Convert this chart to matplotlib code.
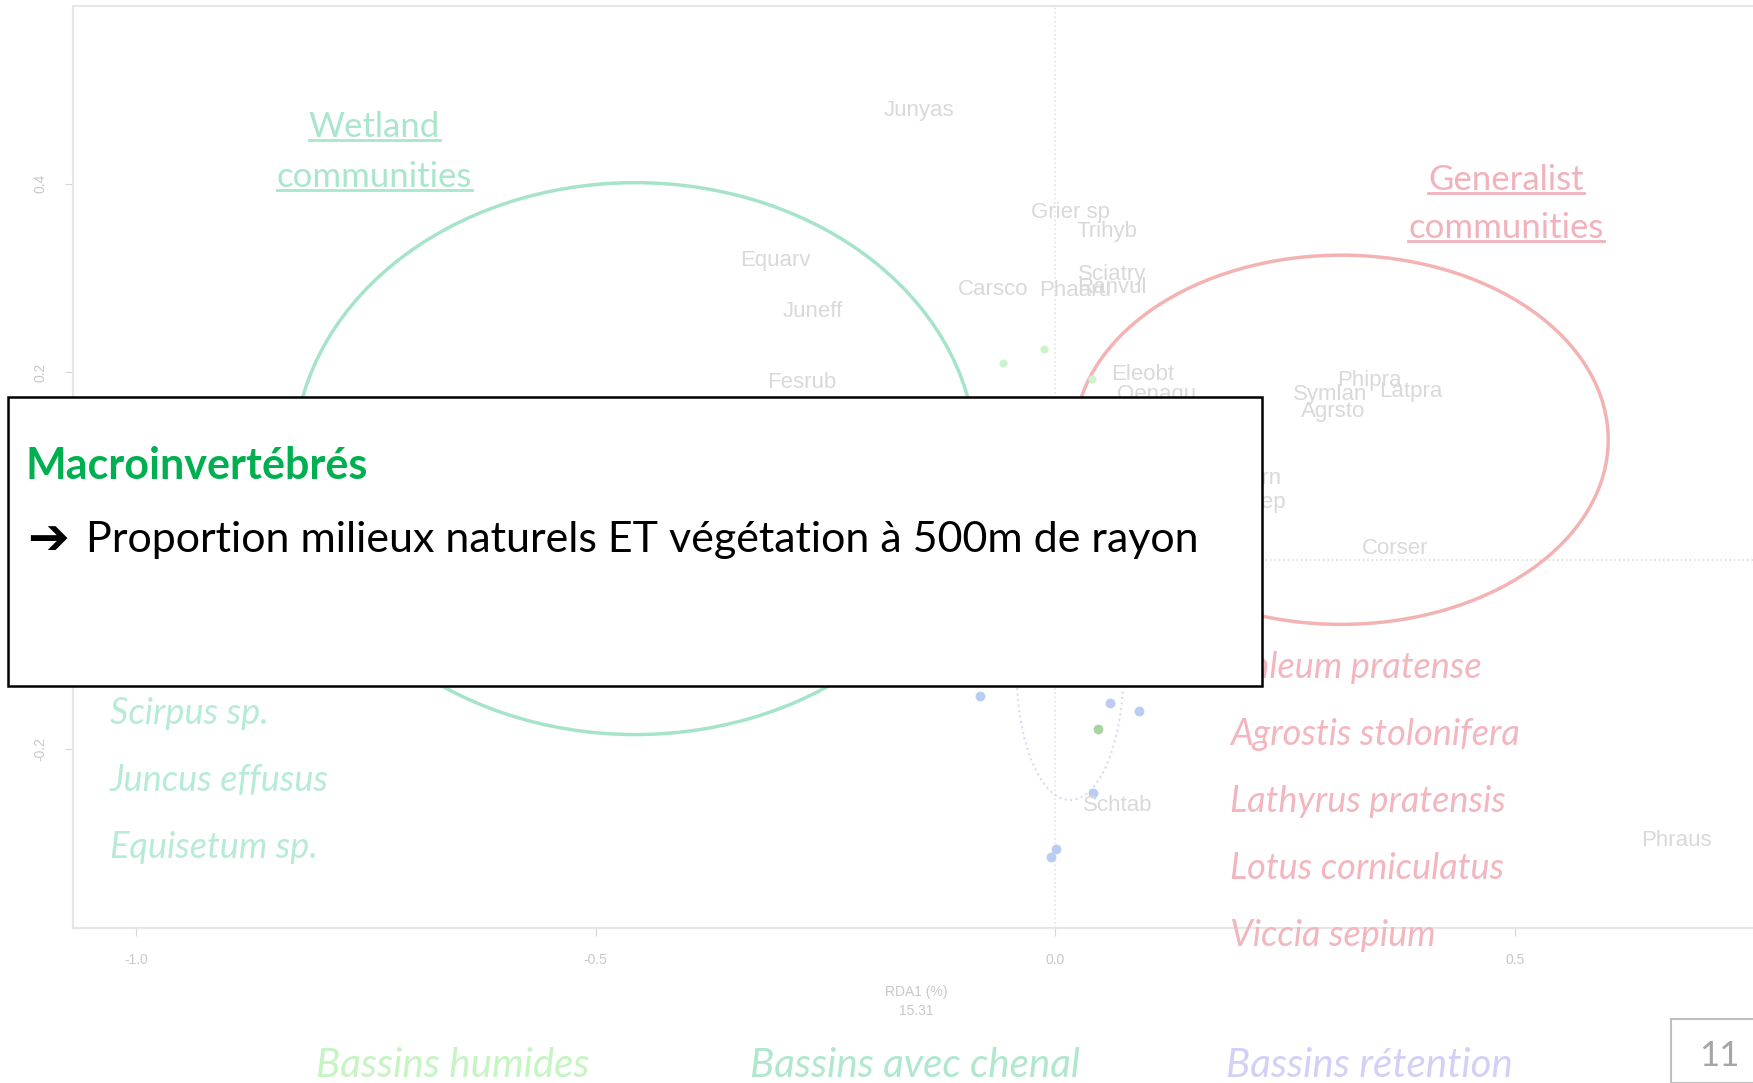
import matplotlib.pyplot as plt
from matplotlib.patches import Ellipse, Rectangle
from matplotlib.lines import Line2D

xticks = [-1.0, -0.5, 0.0, 0.5]
yticks = [-0.2, 0.2, 0.4]

# sites (points)
green_x = [-0.057, -0.012, 0.040]
green_y = [0.209, 0.224, 0.193]
dgreen_x = [0.046]
dgreen_y = [-0.179]
blue_x = [-0.082, 0.060, 0.091, 0.041, -0.005, 0.001]
blue_y = [-0.144, -0.151, -0.160, -0.247, -0.315, -0.307]

# especes (codes)
sp_names = ["Junyas", "Grier sp", "Trihyb", "Equarv", "Sciatry", "Carsco", "Phaaru",
            "Ranvul", "Juneff", "Fesrub", "Eleobt", "Oenaqu", "Phipra", "Latpra",
            "Symlan", "Agrsto", "Lotcorn", "Vicsep", "Corser", "Schtab", "Phraus"]
sp_x = [-0.148, 0.017, 0.056, -0.305, 0.062, -0.068, 0.022, 0.062, -0.264, -0.276,
        0.095, 0.110, 0.342, 0.387, 0.299, 0.302, 0.205, 0.215, 0.370, 0.068, 0.676]
sp_y = [0.478, 0.369, 0.349, 0.318, 0.304, 0.288, 0.286, 0.290, 0.264, 0.189,
        0.197, 0.176, 0.191, 0.179, 0.176, 0.158, 0.087, 0.061, 0.013, -0.260, -0.298]

# ellipses des groupes (centre x, centre y, largeur, hauteur)
wet_ell = (-0.457, 0.108, 0.742, 0.586)
gen_ell = (0.311, 0.128, 0.581, 0.392)
ret_ell = (0.016, -0.118, 0.116, 0.273)

wet_species = ["Scirpus sp.", "Juncus effusus", "Equisetum sp."]
gen_species = ["Phleum pratense", "Agrostis stolonifera", "Lathyrus pratensis",
               "Lotus corniculatus", "Viccia sepium"]
groups = ["Bassins humides", "Bassins avec chenal", "Bassins rétention"]
group_cols = ["#c6f4c2", "#afe8cd", "#d2d0f7"]

W, H = 1568, 969  # repere de mesure (pixels de l'image lue)

def fx(px):
    return px / W

def fy(py):
    return 1 - py / H

plt.rcParams['font.family'] = ['Lato', 'DejaVu Sans']
narrow = ["Liberation Sans Narrow", "Liberation Sans", "DejaVu Sans"]

fig = plt.figure(figsize=(17.53, 10.83), dpi=100)
ax = fig.add_axes([fx(65), fy(830), 1 - fx(65), (830 - 5) / H])
ax.set_xlim(-1.069, 0.759)
ax.set_ylim(-0.39, 0.589)
for s in ["left", "bottom", "top"]:
    ax.spines[s].set_color("#e6e6e6")
    ax.spines[s].set_linewidth(1.5)
ax.spines["right"].set_visible(False)
ax.set_xticks(xticks)
ax.set_xticklabels(["%.1f" % v for v in xticks])
ax.set_yticks(yticks)
ax.set_yticklabels(["%.1f" % v for v in yticks], rotation=90, va="center")
ax.tick_params(colors="#d6d6d6", labelcolor="#c8c8c8", labelsize=10, length=6, pad=12)
for lab in ax.get_xticklabels() + ax.get_yticklabels():
    lab.set_family(narrow)

ax.axvline(0, color="#e4e4e4", ls=":", lw=1.2, zorder=0)
ax.axhline(0, color="#dcdcdc", ls=":", lw=1.2, zorder=0)

ax.add_patch(Ellipse(wet_ell[:2], wet_ell[2], wet_ell[3], fill=False, ec="#a6e4c9", lw=2.5))
ax.add_patch(Ellipse(gen_ell[:2], gen_ell[2], gen_ell[3], fill=False, ec="#f3b3b3", lw=2.5))
ax.add_patch(Ellipse(ret_ell[:2], ret_ell[2], ret_ell[3], fill=False, ec="#d3ddf3", lw=1.5, ls=":"))

ax.scatter(green_x, green_y, s=35, c="#cdf3cd", marker="o", lw=0)
ax.scatter(dgreen_x, dgreen_y, s=50, c="#a9d3a0", marker="o", lw=0)
ax.scatter(blue_x, blue_y, s=50, c="#b9cdf3", marker="o", lw=0)

for n, x, y in zip(sp_names, sp_x, sp_y):
    ax.text(x, y, n, color="#d9d9d9", fontsize=16, ha="center", va="center", family=narrow)

fig.text(fx(820), fy(888), "RDA1 (%)", color="#c8c8c8", fontsize=10, ha="center", va="center",
         family=narrow)
fig.text(fx(820), fy(905), "15.31", color="#c8c8c8", fontsize=10, ha="center", va="center",
         family=narrow)

# titres des groupes, soulignes
heads = []
for txt, x, y, c in [("Wetland", 335, 114, "#a9e6cc"), ("communities", 335, 158, "#a9e6cc"),
                     ("Generalist", 1347, 161, "#f2b2bc"), ("communities", 1347, 204, "#f2b2bc")]:
    heads.append((fig.text(fx(x), fy(y), txt, color=c, fontsize=25, ha="center", va="center",
                           zorder=1), c))

for i, t in enumerate(wet_species):
    fig.text(fx(98), fy(638 + 60 * i), t, color="#b6ecd6", fontsize=26, style="italic",
             ha="left", va="center", zorder=1)
for i, t in enumerate(gen_species):
    fig.text(fx(1100), fy(597 + 60 * i), t, color="#f3b6bf", fontsize=26, style="italic",
             ha="left", va="center", zorder=1)

for t, x, c in zip(groups, [405, 818, 1225], group_cols):
    fig.text(fx(x), fy(953), t, color=c, fontsize=29, style="italic",
             ha="center", va="center", zorder=1)

# encadre du texte
fig.add_artist(Rectangle((fx(7), fy(614)), fx(1129) - fx(7), (614 - 355) / H,
                         transform=fig.transFigure, fc="white", ec="black", lw=1.8, zorder=5))
fig.text(fx(23), fy(417), "Macroinvertébrés", color="#00b050", fontsize=31, weight="bold",
         ha="left", va="center", zorder=6)
fig.text(fx(24), fy(483), "\u2794", color="black", fontsize=36, weight="bold", ha="left",
         va="center", zorder=6, family=["DejaVu Sans"])
fig.text(fx(77), fy(483), "Proportion milieux naturels ET végétation à 500m de rayon",
         color="black", fontsize=31, ha="left", va="center", zorder=6)

# numero de page
fig.add_artist(Rectangle((fx(1495), 0), 0.1, 1 - 912 / H, transform=fig.transFigure,
                         fc="white", ec="#bfbfbf", lw=1.5, zorder=5))
fig.text(fx(1538), fy(945), "11", color="#a6a6a6", fontsize=25, ha="center", va="center",
         zorder=6)

# soulignements
fig.canvas.draw()
r = fig.canvas.get_renderer()
inv = fig.transFigure.inverted()
for t, c in heads:
    bb = t.get_window_extent(r)
    (x0, y0), (x1, _) = inv.transform([(bb.x0, bb.y0 + 3), (bb.x1, bb.y0 + 3)])
    fig.add_artist(Line2D([x0, x1], [y0, y0], transform=fig.transFigure, color=c, lw=2,
                          zorder=1))

fig.savefig("out.png", dpi=100, facecolor="white")
